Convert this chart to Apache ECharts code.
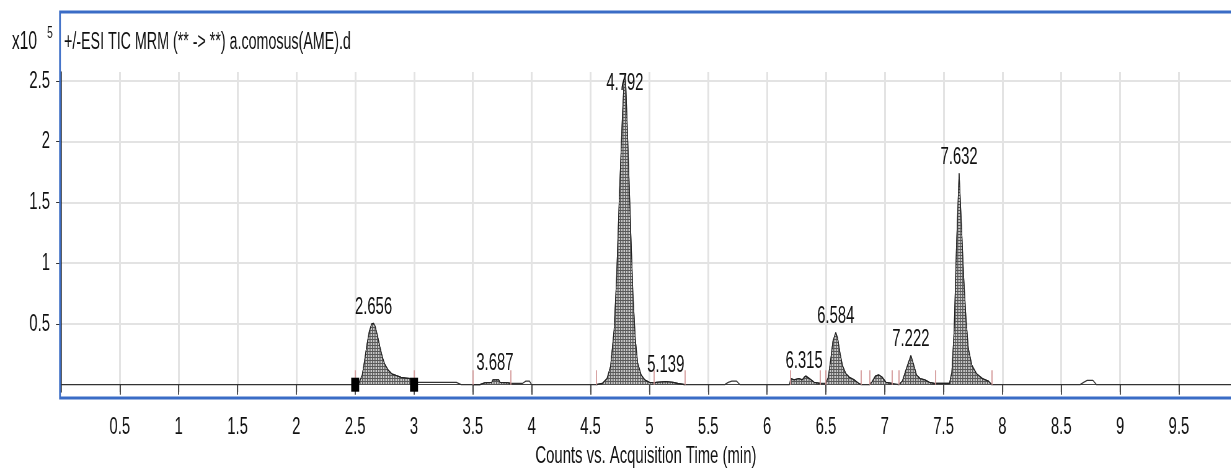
<!DOCTYPE html>
<html><head><meta charset="utf-8">
<script src="https://cdn.jsdelivr.net/npm/echarts@6/dist/echarts.min.js"></script>
<style>
html,body{margin:0;padding:0;background:#fff;overflow:hidden;width:1231px;height:473px}
#c{position:absolute;left:0;top:0;height:473px;transform-origin:0 0}
</style>
</head><body><div id="c"></div>
<script>
// Acquisition time (min)
const times = [0.0, 2.5, 2.53, 2.56, 2.58, 2.60, 2.62, 2.64, 2.656, 2.67, 2.69, 2.71, 2.73, 2.75, 2.78, 2.81, 2.85, 2.89, 2.93, 2.97, 3.0, 3.02, 3.36, 3.40, 3.5, 3.56, 3.60, 3.66, 3.67, 3.687, 3.72, 3.73, 3.80, 3.82, 3.92, 3.93, 3.95, 3.98, 4.0, 4.55, 4.60, 4.64, 4.67, 4.70, 4.72, 4.745, 4.77, 4.785, 4.792, 4.80, 4.82, 4.84, 4.86, 4.88, 4.90, 4.93, 4.96, 5.0, 5.04, 5.06, 5.139, 5.20, 5.24, 5.30, 5.64, 5.67, 5.70, 5.74, 5.77, 6.19, 6.2, 6.23, 6.27, 6.30, 6.315, 6.33, 6.36, 6.40, 6.45, 6.50, 6.52, 6.54, 6.56, 6.584, 6.60, 6.62, 6.64, 6.67, 6.70, 6.74, 6.78, 6.80, 6.87, 6.89, 6.92, 6.95, 6.98, 7.01, 7.06, 7.12, 7.15, 7.18, 7.222, 7.25, 7.27, 7.30, 7.34, 7.38, 7.42, 7.43, 7.55, 7.57, 7.59, 7.61, 7.632, 7.65, 7.67, 7.69, 7.71, 7.74, 7.78, 7.83, 7.88, 7.91, 8.66, 8.69, 8.72, 8.77, 8.80, 9.94];
// Counts (x10^5)
const counts = [0.0, 0.0, 0.01, 0.08, 0.2, 0.33, 0.44, 0.5, 0.505, 0.48, 0.4, 0.31, 0.23, 0.17, 0.12, 0.09, 0.075, 0.06, 0.055, 0.05, 0.03, 0.02, 0.02, 0.0, 0.0, 0.0, 0.015, 0.02, 0.04, 0.04, 0.04, 0.02, 0.015, 0.01, 0.01, 0.0, 0.03, 0.03, 0.0, 0.0, 0.01, 0.05, 0.15, 0.45, 0.85, 1.55, 2.2, 2.5, 2.55, 2.45, 1.9, 1.3, 0.75, 0.38, 0.18, 0.08, 0.04, 0.02, 0.015, 0.02, 0.025, 0.02, 0.01, 0.0, 0.0, 0.02, 0.03, 0.03, 0.0, 0.0, 0.05, 0.04, 0.05, 0.04, 0.06, 0.07, 0.05, 0.02, 0.01, 0.01, 0.06, 0.2, 0.36, 0.43, 0.38, 0.26, 0.16, 0.09, 0.06, 0.04, 0.01, 0.0, 0.0, 0.02, 0.07, 0.08, 0.06, 0.02, 0.01, 0.0, 0.03, 0.12, 0.24, 0.15, 0.08, 0.05, 0.04, 0.02, 0.01, 0.01, 0.01, 0.1, 0.45, 1.15, 1.74, 1.35, 0.9, 0.55, 0.3, 0.16, 0.09, 0.05, 0.03, 0.0, 0.0, 0.02, 0.035, 0.035, 0.0, 0.0];
const xTickValues = [0.5, 1, 1.5, 2, 2.5, 3, 3.5, 4, 4.5, 5, 5.5, 6, 6.5, 7, 7.5, 8, 8.5, 9, 9.5];
const yTickValues = [0.5, 1, 1.5, 2, 2.5];
const peakLabels = [2.656, 3.687, 4.792, 5.139, 6.315, 6.584, 7.222, 7.632];
const filledRanges = [[2.5, 3.0], [3.5, 3.82], [4.55, 5.04], [5.04, 5.30], [6.2, 6.45], [6.5, 6.80], [6.87, 7.06], [7.12, 7.42], [7.43, 7.91]];
const integrationMarks = [2.5, 3.0, 3.5, 3.82, 4.55, 5.04, 5.30, 6.2, 6.45, 6.5, 6.80, 6.87, 7.06, 7.12, 7.43, 7.91];
const blockMarkers = [2.5, 3.0];
const titleText = '+/-ESI TIC MRM (** -> **) a.comosus(AME).d';
const xAxisTitle = 'Counts vs. Acquisition Time (min)';

// horizontal squeeze of the whole drawing (the reference is horizontally condensed)
const S = 0.62;
const W = 1231 / S;
const el = document.getElementById('c');
el.style.width = W + 'px';
el.style.transform = 'scaleX(' + S + ')';
const h = v => v / S;

const FONT = '"Liberation Sans", Arial, sans-serif';
const trace = times.map((t, i) => [t, counts[i]]);

const pc = document.createElement('canvas');
pc.width = 4; pc.height = 3;
const g = pc.getContext('2d');
g.fillStyle = '#cacaca'; g.fillRect(0, 0, 4, 3);
g.fillStyle = '#5a5a5a'; g.fillRect(0, 0, 4, 1); g.fillRect(0, 0, 1.6, 3);

const fillSeries = filledRanges.map(r => ({
  type: 'line', data: trace.filter(p => p[0] >= r[0] && p[0] <= r[1]),
  symbol: 'none', z: 3, silent: true,
  lineStyle: { color: '#222', width: 1.3 },
  areaStyle: { color: { image: pc, repeat: 'repeat' }, opacity: 1 }
}));

function valueAt(t) { const i = times.indexOf(t); return i >= 0 ? counts[i] : 0; }

const chart = echarts.init(el, null, { renderer: 'canvas' });
chart.setOption({
  animation: false,
  grid: { left: h(61), right: 0, top: 72, bottom: 80, containLabel: false },
  xAxis: {
    type: 'value', min: 0, max: 9.94, offset: 10,
    axisLine: { show: true, lineStyle: { color: '#444', width: 1 } },
    axisTick: { show: true, length: 10, customValues: xTickValues, lineStyle: { color: '#222', width: 1.6 } },
    axisLabel: { customValues: xTickValues, margin: 13, fontSize: 24, color: '#111', fontFamily: FONT },
    splitLine: { show: true, lineStyle: { color: '#e3e3e3', width: 3 } },
    name: xAxisTitle, nameLocation: 'middle', nameGap: 42,
    nameTextStyle: { fontSize: 24, color: '#111', fontFamily: FONT }
  },
  yAxis: {
    type: 'value', min: -0.06, max: 2.574, offset: h(4),
    axisLine: { show: true, lineStyle: { color: '#333', width: 1.6 } },
    axisTick: { show: true, length: h(5), customValues: yTickValues, lineStyle: { color: '#333' } },
    axisLabel: { customValues: yTickValues, margin: h(7), fontSize: 24, color: '#111', fontFamily: FONT },
    splitLine: { show: true, lineStyle: { color: '#e3e3e3', width: 2 } }
  },
  graphic: [
    { type: 'rect', shape: { x: h(60), y: 12, width: h(1190), height: 386 }, style: { fill: 'none', stroke: '#3a6cc6', lineWidth: 2.8 }, z: 100, silent: true },
    { type: 'text', left: h(12), top: 30, style: { text: 'x10', font: '25px ' + FONT, fill: '#111' } },
    { type: 'text', left: h(47), top: 25, style: { text: '5', font: '17px ' + FONT, fill: '#111' } },
    { type: 'text', left: h(64), top: 31, style: { text: titleText, font: '23px ' + FONT, fill: '#111' } }
  ],
  series: [
    {
      type: 'line', data: trace, symbol: 'none', z: 2, silent: true,
      lineStyle: { color: '#333', width: 1.3 },
      markLine: {
        silent: true, symbol: 'none', label: { show: false },
        lineStyle: { color: '#d49a9a', width: 1.8, type: 'solid' },
        data: integrationMarks.map(t => [{ coord: [t, 0] }, { coord: [t, 0.12] }])
      }
    },
    ...fillSeries,
    {
      type: 'scatter', data: blockMarkers.map(t => [t, 0]), symbol: 'rect', symbolSize: [h(8), 14],
      itemStyle: { color: '#000', opacity: 1 }, z: 5, silent: true
    },
    {
      type: 'scatter', z: 6, silent: true, symbolSize: 0,
      itemStyle: { opacity: 1 },
      data: peakLabels.map(t => ({
        value: [t, valueAt(t)],
        label: t === 4.792 ? { position: 'inside', offset: [0, 8] } : undefined
      })),
      label: {
        show: true, position: 'top', distance: 4, opacity: 1,
        formatter: p => p.value[0].toFixed(3),
        fontSize: 24, color: '#111', fontFamily: FONT
      }
    }
  ]
});
</script></body></html>
